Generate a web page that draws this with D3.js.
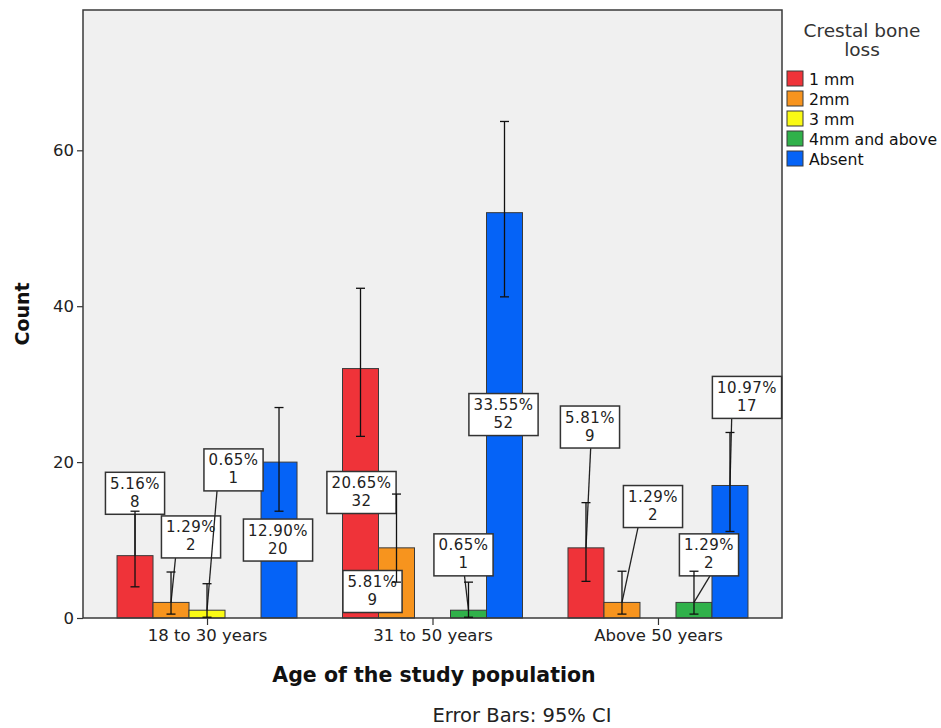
<!DOCTYPE html>
<html>
<head>
<meta charset="utf-8">
<script src="https://cdn.jsdelivr.net/npm/d3@7"></script>
<style>
  html, body { margin: 0; padding: 0; background: #ffffff; }
  svg { display: block; font-family: "DejaVu Sans", Verdana, sans-serif; }
</style>
</head>
<body>
<svg id="chart" width="941" height="728"></svg>
<script>
// Age groups on the x axis
const categories = ["18 to 30 years", "31 to 50 years", "Above 50 years"];

// Crestal bone loss categories (legend order)
const series = ["1 mm", "2mm", "3 mm", "4mm and above", "Absent"];

// Counts per series, one value per age group
const count1mm    = [8, 32, 9];
const count2mm    = [2, 9, 2];
const count3mm    = [1, 0, 0];
const count4mm    = [0, 1, 2];
const countAbsent = [20, 52, 17];

// 95% confidence interval bounds per series
const ciLow1mm     = [4.0, 23.3, 4.7];
const ciHigh1mm    = [13.7, 42.3, 14.8];
const ciLow2mm     = [0.5, 4.6, 0.5];
const ciHigh2mm    = [5.9, 15.9, 6.0];
const ciLow3mm     = [0.1, null, null];
const ciHigh3mm    = [4.4, null, null];
const ciLow4mm     = [null, 0.1, 0.5];
const ciHigh4mm    = [null, 4.6, 6.0];
const ciLowAbsent  = [13.7, 41.2, 11.1];
const ciHighAbsent = [27.0, 63.7, 23.8];

// Y axis tick values
const yTicks = [0, 20, 40, 60];

const counts = [count1mm, count2mm, count3mm, count4mm, countAbsent];
const ciLow  = [ciLow1mm, ciLow2mm, ciLow3mm, ciLow4mm, ciLowAbsent];
const ciHigh = [ciHigh1mm, ciHigh2mm, ciHigh3mm, ciHigh4mm, ciHighAbsent];
const colors = ["#EF3339", "#F7941E", "#FAFA14", "#30B14A", "#0563F7"];

// Placement of value labels: horizontal offset (px) of the box from the bar centre,
// box centre on the count axis, and leader start offset (px)
const labelLayout = [
  [{dx: 0, y: 16.0, lx: 0},   {dx: 1, y: 16.1, lx: 0},  {dx: 4, y: 24.5, lx: 4.7}],
  [{dx: 20, y: 10.4, lx: 4.5}, {dx: -24, y: 3.4, lx: 0}, {dx: 31, y: 14.3, lx: 16}],
  [{dx: 26.5, y: 19.0, lx: 10}, null, null],
  [null, {dx: -5, y: 8.1, lx: -4}, {dx: 15, y: 8.1, lx: 16}],
  [{dx: -1, y: 10.0, lx: 0},  {dx: -1, y: 26.1, lx: 0}, {dx: 17, y: 28.3, lx: 1.7}]
];

const total = d3.sum(counts.flat());

const svg = d3.select("#chart");
const plot = {left: 83, right: 782, top: 10, bottom: 618};
const FONT = "DejaVu Sans, Verdana, sans-serif";

const xGroup = d3.scalePoint()
  .domain(categories)
  .range([plot.left, plot.right])
  .padding(0.55);

const xSeries = d3.scaleBand()
  .domain(series)
  .range([-90, 90]);

const y = d3.scaleLinear()
  .domain([0, 78])
  .range([plot.bottom, plot.top]);

// Plot background
svg.append("rect")
  .attr("x", plot.left).attr("y", plot.top)
  .attr("width", plot.right - plot.left)
  .attr("height", plot.bottom - plot.top)
  .attr("fill", "#f0f0f0");

// Flatten into records
const records = [];
series.forEach((s, si) => {
  categories.forEach((c, gi) => {
    const v = counts[si][gi];
    if (v > 0) {
      records.push({
        series: s, si, cat: c, gi, value: v,
        lo: ciLow[si][gi], hi: ciHigh[si][gi],
        layout: labelLayout[si][gi],
        cx: xGroup(c) + xSeries(s) + xSeries.bandwidth() / 2
      });
    }
  });
});

// Bars
svg.append("g").selectAll("rect")
  .data(records)
  .join("rect")
  .attr("x", d => xGroup(d.cat) + xSeries(d.series))
  .attr("y", d => y(d.value))
  .attr("width", xSeries.bandwidth())
  .attr("height", d => y(0) - y(d.value))
  .attr("fill", d => colors[d.si])
  .attr("stroke", "#3a3a3a")
  .attr("stroke-width", 1);

// Axes
const yAxis = svg.append("g")
  .attr("transform", `translate(${plot.left},0)`)
  .call(d3.axisLeft(y).tickValues(yTicks).tickSize(6).tickPadding(3).tickFormat(d3.format("d")));
yAxis.select(".domain").remove();
yAxis.selectAll(".tick line").attr("stroke", "#333").attr("stroke-width", 1.2);
yAxis.selectAll(".tick text").attr("font-size", 16.5).attr("fill", "#222")
  .attr("font-family", FONT);

const xAxis = svg.append("g")
  .attr("transform", `translate(0,${plot.bottom})`)
  .call(d3.axisBottom(xGroup).tickSize(7).tickPadding(4));
xAxis.select(".domain").remove();
xAxis.selectAll(".tick line").attr("stroke", "#333").attr("stroke-width", 1.2);
xAxis.selectAll(".tick text").attr("font-size", 16.5).attr("fill", "#222")
  .attr("font-family", FONT);

// Plot frame
svg.append("rect")
  .attr("x", plot.left).attr("y", plot.top)
  .attr("width", plot.right - plot.left)
  .attr("height", plot.bottom - plot.top)
  .attr("fill", "none")
  .attr("stroke", "#3a3a3a")
  .attr("stroke-width", 1.5);

// Value labels (percent of total and count): leader lines, then boxes
const fmtPct = d3.format(".2f");
const labelRecs = records.filter(d => d.layout);

const labelG = svg.append("g");
labelRecs.forEach(d => {
  const bx = d.cx + d.layout.dx;
  const by = y(d.layout.y);
  const line1 = fmtPct(d.value / total * 100) + "%";
  const line2 = String(d.value);

  const g = labelG.append("g");
  const t1 = g.append("text").attr("x", bx).attr("y", by - 4.5)
    .attr("text-anchor", "middle").attr("font-size", 15).attr("letter-spacing", 0.5)
    .attr("fill", "#222").text(line1);
  g.append("text").attr("x", bx).attr("y", by + 13.5)
    .attr("text-anchor", "middle").attr("font-size", 15).attr("letter-spacing", 0.5)
    .attr("fill", "#222").text(line2);
  const w = t1.node().getComputedTextLength() + 9;
  const h = 42;
  const boxBottom = by + h / 2;
  if (boxBottom < y(d.value)) {
    g.insert("line", ":first-child")
      .attr("x1", d.cx + d.layout.lx).attr("y1", boxBottom)
      .attr("x2", d.cx).attr("y2", y(d.value))
      .attr("stroke", "#222").attr("stroke-width", 1.3);
  }
  g.insert("rect", "text")
    .attr("x", bx - w / 2).attr("y", by - h / 2)
    .attr("width", w).attr("height", h)
    .attr("fill", "#ffffff")
    .attr("stroke", "#333").attr("stroke-width", 1.5);
});

// Error bars (95% CI)
const capHalf = 4.5;
const eb = svg.append("g").attr("stroke", "#111").attr("stroke-width", 1.3);
records.filter(d => d.lo != null && d.hi != null).forEach(d => {
  eb.append("line").attr("x1", d.cx).attr("x2", d.cx).attr("y1", y(d.lo)).attr("y2", y(d.hi));
  eb.append("line").attr("x1", d.cx - capHalf).attr("x2", d.cx + capHalf).attr("y1", y(d.hi)).attr("y2", y(d.hi));
  eb.append("line").attr("x1", d.cx - capHalf).attr("x2", d.cx + capHalf).attr("y1", y(d.lo)).attr("y2", y(d.lo));
});

// Axis titles
svg.append("text")
  .attr("transform", `translate(29,${(plot.top + plot.bottom) / 2}) rotate(-90)`)
  .attr("text-anchor", "middle")
  .attr("font-size", 19).attr("font-weight", "bold").attr("fill", "#111")
  .text("Count");

svg.append("text")
  .attr("x", 434).attr("y", 682)
  .attr("text-anchor", "middle")
  .attr("font-size", 20.5).attr("font-weight", "bold").attr("fill", "#111")
  .text("Age of the study population");

svg.append("text")
  .attr("x", 522).attr("y", 722)
  .attr("text-anchor", "middle")
  .attr("font-size", 19.5).attr("fill", "#222")
  .text("Error Bars: 95% CI");

// Legend
const legend = svg.append("g");
legend.append("text").attr("x", 862).attr("y", 37)
  .attr("text-anchor", "middle").attr("font-size", 18.5).attr("fill", "#333").text("Crestal bone");
legend.append("text").attr("x", 862).attr("y", 56)
  .attr("text-anchor", "middle").attr("font-size", 18.5).attr("fill", "#333").text("loss");

const items = legend.selectAll("g.item")
  .data(series)
  .join("g")
  .attr("class", "item")
  .attr("transform", (d, i) => `translate(787,${71 + i * 20})`);
items.append("rect")
  .attr("width", 16).attr("height", 15)
  .attr("fill", (d, i) => colors[i])
  .attr("stroke", "#3a3a3a").attr("stroke-width", 1);
items.append("text")
  .attr("x", 22).attr("y", 13.5)
  .attr("font-size", 15.7).attr("fill", "#111")
  .text(d => d);
</script>
</body>
</html>
